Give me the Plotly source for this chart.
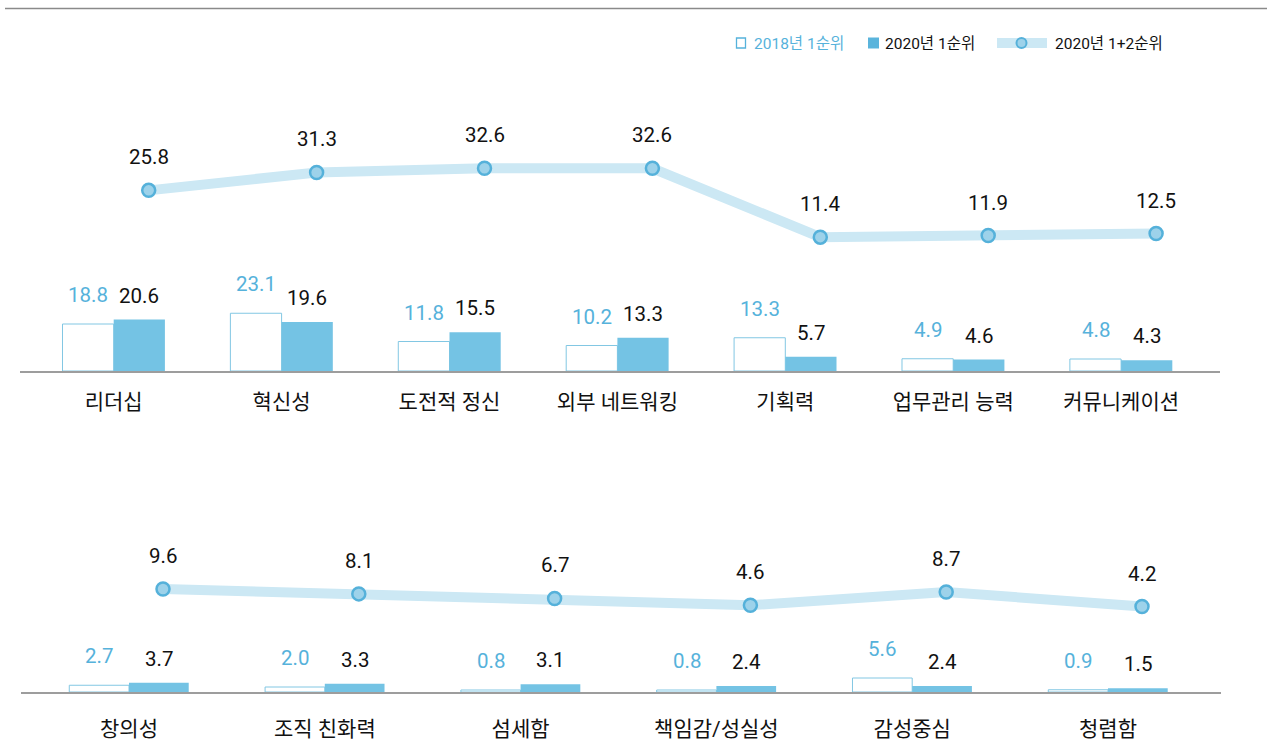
import plotly.graph_objects as go

W, H = 1267, 754

# ---- data -------------------------------------------------------------
top_cats = ["리더십", "혁신성", "도전적 정신", "외부 네트워킹", "기획력", "업무관리 능력", "커뮤니케이션"]
top_2018 = [18.8, 23.1, 11.8, 10.2, 13.3, 4.9, 4.8]
top_2020 = [20.6, 19.6, 15.5, 13.3, 5.7, 4.6, 4.3]
top_2020_top2 = [25.8, 31.3, 32.6, 32.6, 11.4, 11.9, 12.5]

bot_cats = ["창의성", "조직 친화력", "섬세함", "책임감/성실성", "감성중심", "청렴함"]
bot_2018 = [2.7, 2.0, 0.8, 0.8, 5.6, 0.9]
bot_2020 = [3.7, 3.3, 3.1, 2.4, 2.4, 1.5]
bot_2020_top2 = [9.6, 8.1, 6.7, 4.6, 8.7, 4.2]

legend_labels = ["2018년 1순위", "2020년 1순위", "2020년 1+2순위"]

# ---- style ------------------------------------------------------------
FONT = "Roboto, 'Noto Sans CJK KR', sans-serif"
BLUE_TEXT = "#56b2db"
BAR_FILL = "#74c3e4"
BAR_OUTLINE = "#82c7e3"
LINE_COLOR = "#cce8f4"
MARKER_FILL = "#9dd2ea"
MARKER_EDGE = "#55b1da"
AXIS_GRAY = "#9d9d9d"
INK = "#111111"
VALUE_SIZE = 20.5

BARGAP = 0.39
BAR_PX_PER_UNIT = 2.5
LINE_PX_PER_UNIT = 3.25


def px_x(p):
    return p / W


def px_y(p):
    return 1 - p / H


fig = go.Figure()
annotations = []


def add_panel(cats, v18, v20, vtop2, xa, ya_bar, ya_line,
              left_px, right_px, first_center_px, pitch_px,
              bottom_px, top_px, line_zero_px, marker_offset_px, standoff):
    idx = list(range(len(cats)))
    xr = [(left_px - first_center_px) / pitch_px, (right_px - first_center_px) / pitch_px]
    height_px = bottom_px - top_px
    bar_range = [0, height_px / BAR_PX_PER_UNIT]
    line_range = [-(bottom_px - line_zero_px) / LINE_PX_PER_UNIT,
                  (line_zero_px - top_px) / LINE_PX_PER_UNIT]
    x_line = [i + marker_offset_px / pitch_px for i in idx]

    xref = "x" if xa == 1 else f"x{xa}"
    ybar_ref = "y" if ya_bar == 1 else f"y{ya_bar}"
    yline_ref = f"y{ya_line}"

    fig.add_trace(go.Bar(
        x=idx, y=v18, name=legend_labels[0], showlegend=False,
        marker=dict(color="white", line=dict(color=BAR_OUTLINE, width=1)),
        xaxis=xref, yaxis=ybar_ref, hoverinfo="skip"))
    fig.add_trace(go.Bar(
        x=idx, y=v20, name=legend_labels[1], showlegend=False,
        marker=dict(color=BAR_FILL, line=dict(width=0)),
        xaxis=xref, yaxis=ybar_ref, hoverinfo="skip"))
    fig.add_trace(go.Scatter(
        x=x_line, y=vtop2, name=legend_labels[2], showlegend=False,
        mode="lines+markers",
        line=dict(color=LINE_COLOR, width=10),
        marker=dict(size=13, color=MARKER_FILL, line=dict(color=MARKER_EDGE, width=2.5)),
        xaxis=xref, yaxis=yline_ref, hoverinfo="skip", cliponaxis=False))

    half = (1 - BARGAP) / 4
    for i in idx:
        annotations.append(dict(
            x=i - half, y=v18[i], xref=xref, yref=ybar_ref, text=f"{v18[i]:.1f}",
            showarrow=False, yanchor="middle", yshift=29,
            font=dict(family=FONT, size=VALUE_SIZE, color=BLUE_TEXT)))
        annotations.append(dict(
            x=i + half, y=v20[i], xref=xref, yref=ybar_ref, text=f"{v20[i]:.1f}",
            showarrow=False, yanchor="middle", yshift=24,
            font=dict(family=FONT, size=VALUE_SIZE, color=INK)))
        annotations.append(dict(
            x=x_line[i], y=vtop2[i], xref=xref, yref=yline_ref, text=f"{vtop2[i]:.1f}",
            showarrow=False, yanchor="middle", yshift=33,
            font=dict(family=FONT, size=VALUE_SIZE, color=INK)))

    xaxis = dict(
        domain=[px_x(left_px), px_x(right_px)], range=xr,
        showgrid=False, zeroline=False, showline=True,
        linecolor=AXIS_GRAY, linewidth=1.5,
        tickmode="array", tickvals=idx, ticktext=cats, ticks="",
        ticklabelstandoff=standoff,
        tickfont=dict(family=FONT, size=21, color=INK),
        anchor=ybar_ref, fixedrange=True)
    ybar = dict(domain=[px_y(bottom_px), px_y(top_px)], range=bar_range,
                visible=False, anchor=xref, fixedrange=True)
    yline = dict(range=line_range, visible=False, overlaying=ybar_ref,
                 anchor=xref, fixedrange=True)
    name_x = "xaxis" if xa == 1 else f"xaxis{xa}"
    name_yb = "yaxis" if ya_bar == 1 else f"yaxis{ya_bar}"
    fig.update_layout({name_x: xaxis, name_yb: ybar, f"yaxis{ya_line}": yline})


# upper panel: seven items
add_panel(top_cats, top_2018, top_2020, top_2020_top2, 1, 1, 2,
          left_px=20, right_px=1220, first_center_px=113.7, pitch_px=167.9,
          bottom_px=371, top_px=90, line_zero_px=274.2, marker_offset_px=35,
          standoff=11)
# lower panel: six items
add_panel(bot_cats, bot_2018, bot_2020, bot_2020_top2, 2, 3, 4,
          left_px=21, right_px=1221, first_center_px=129, pitch_px=195.8,
          bottom_px=692, top_px=520, line_zero_px=620.2, marker_offset_px=34,
          standoff=17)

# ---- legend (drawn with shapes + text) --------------------------------
shapes = [
    # top rule
    dict(type="line", xref="paper", yref="paper", x0=px_x(5), x1=1,
         y0=px_y(8.5), y1=px_y(8.5), line=dict(color="#8a8a8a", width=1.5)),
    # 2018 outline square
    dict(type="rect", xref="paper", yref="paper",
         x0=px_x(736.5), x1=px_x(745.5), y0=px_y(48), y1=px_y(38),
         fillcolor="white", line=dict(color=BLUE_TEXT, width=1.3)),
    # 2020 filled square
    dict(type="rect", xref="paper", yref="paper",
         x0=px_x(868), x1=px_x(879), y0=px_y(48.5), y1=px_y(37.5),
         fillcolor="#5ab4dc", line=dict(width=0)),
    # 2020 top-2 band
    dict(type="line", xref="paper", yref="paper",
         x0=px_x(997), x1=px_x(1047), y0=px_y(43), y1=px_y(43),
         line=dict(color=LINE_COLOR, width=10)),
    dict(type="circle", xref="paper", yref="paper",
         x0=px_x(1016.5), x1=px_x(1026.5), y0=px_y(48), y1=px_y(38),
         fillcolor=MARKER_FILL, line=dict(color=MARKER_EDGE, width=2)),
]
legend_items = [(752, legend_labels[0], BLUE_TEXT),
                (883, legend_labels[1], INK),
                (1053, legend_labels[2], INK)]
for lx, txt, col in legend_items:
    annotations.append(dict(
        x=px_x(lx), y=px_y(43.5), xref="paper", yref="paper", text=txt,
        showarrow=False, xanchor="left", yanchor="middle",
        font=dict(family=FONT, size=15.5, color=col)))

fig.update_layout(
    width=W, height=H,
    margin=dict(l=0, r=0, t=0, b=0),
    paper_bgcolor="white", plot_bgcolor="white",
    barmode="group", bargap=BARGAP, bargroupgap=0,
    showlegend=False,
    shapes=shapes, annotations=annotations,
    font=dict(family=FONT, color=INK),
)

fig.write_html("out.html")
